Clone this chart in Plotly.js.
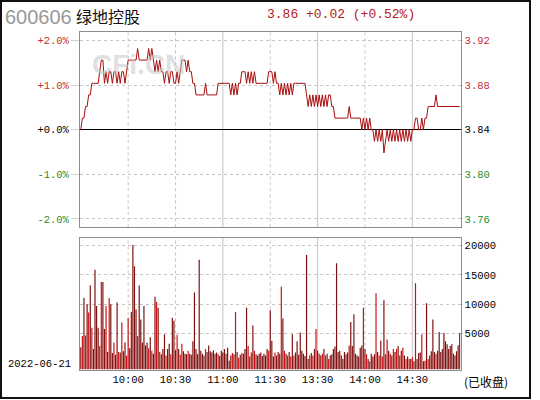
<!DOCTYPE html>
<html>
<head>
<meta charset="utf-8">
<script src="https://cdn.plot.ly/plotly-3.0.1.min.js"></script>
<style>html,body{margin:0;padding:0;background:#fff;}#chart{width:540px;height:400px;}</style>
</head>
<body>
<div id="chart"></div>
<script>
const stockCode = "600606";
const stockName = "绿地控股";
const quoteText = "3.86 +0.02 (+0.52%)";
const tradeDate = "2022-06-21";
const statusText = "(已收盘)";
const prevClose = 3.84;

const timeTicks = [30, 60, 90, 120, 150, 180, 210];
const timeLabels = ["10:00", "10:30", "11:00", "11:30", "13:30", "14:00", "14:30"];
const gridDash = ["dot", "dot", "solid", "dot", "solid", "dot", "solid"];

const pctTicks = [2, 1, 0, -1, -2];
const pctLabels = ["+2.0%", "+1.0%", "+0.0%", "-1.0%", "-2.0%"];
const priceLabels = ["3.92", "3.88", "3.84", "3.80", "3.76"];
const tickColors = ["#c03030", "#c03030", "#000000", "#2a8a2a", "#2a8a2a"];

const volTicks = [5000, 10000, 15000, 20000];
const volLabels = ["5000", "10000", "15000", "20000"];

const price = [
3.84,3.85,3.85,3.86,3.86,3.87,3.87,3.88,3.88,3.88,
3.88,3.88,3.89,3.90,3.90,3.88,3.89,3.88,3.89,3.89,
3.88,3.89,3.89,3.88,3.89,3.88,3.89,3.89,3.88,3.89,
3.90,3.90,3.90,3.90,3.90,3.90,3.91,3.90,3.90,3.90,
3.90,3.90,3.90,3.91,3.90,3.91,3.90,3.89,3.90,3.89,
3.90,3.89,3.89,3.88,3.89,3.89,3.88,3.89,3.89,3.88,
3.88,3.89,3.88,3.89,3.90,3.90,3.90,3.89,3.90,3.89,
3.89,3.88,3.88,3.87,3.87,3.87,3.87,3.87,3.87,3.88,
3.87,3.87,3.87,3.87,3.87,3.87,3.87,3.88,3.88,3.88,
3.88,3.88,3.88,3.88,3.88,3.87,3.88,3.87,3.88,3.87,
3.88,3.88,3.89,3.89,3.89,3.88,3.89,3.88,3.89,3.88,
3.89,3.88,3.88,3.88,3.88,3.88,3.88,3.88,3.88,3.89,
3.89,3.89,3.88,3.89,3.88,3.88,3.87,3.88,3.87,3.88,
3.87,3.88,3.87,3.88,3.87,3.88,3.88,3.88,3.88,3.88,
3.88,3.88,3.88,3.87,3.86,3.87,3.86,3.87,3.86,3.87,
3.86,3.87,3.86,3.87,3.86,3.87,3.86,3.87,3.87,3.86,
3.86,3.85,3.85,3.85,3.85,3.85,3.85,3.85,3.85,3.85,
3.86,3.85,3.85,3.85,3.85,3.85,3.85,3.85,3.84,3.85,
3.84,3.85,3.84,3.85,3.84,3.84,3.83,3.84,3.83,3.84,
3.83,3.84,3.82,3.83,3.84,3.83,3.84,3.83,3.84,3.83,
3.84,3.83,3.84,3.83,3.84,3.83,3.84,3.83,3.84,3.83,
3.84,3.84,3.85,3.85,3.84,3.84,3.85,3.84,3.85,3.85,
3.86,3.86,3.86,3.86,3.86,3.87,3.86,3.86,3.86,3.86,
3.86,3.86,3.86,3.86,3.86,3.86,3.86,3.86,3.86,3.86,
3.86
];

const volume = [
2700,4600,11100,4700,10000,8600,13200,6000,2400,15900,
9700,6000,2900,13800,13800,5800,9700,1900,11100,10000,
1700,3500,1400,10300,1900,1800,6900,2000,3500,1300,
7700,2500,8700,20100,16500,9100,4600,13200,7400,3500,
9700,3000,3500,2500,4400,2100,1600,11300,10400,9400,
1900,1500,2400,4900,1300,2400,3300,1500,7700,7200,
2200,4800,2400,1400,3300,2000,1600,1500,2100,1600,
1400,3700,12000,2400,1500,17600,2100,1600,1300,2400,
1900,3000,2000,1800,2200,1600,1800,1500,1200,2100,
1800,2400,1600,2600,400,1300,1700,1500,8700,1900,
900,1400,1700,1600,2400,9400,2900,1100,1800,6400,
2100,1500,1300,1600,1800,1200,1600,1300,2400,2100,
9000,3800,1100,1800,1300,1900,1600,13000,7600,2100,
1600,1300,1900,1100,4900,1300,1800,3700,1400,5200,
2100,1600,1200,18400,700,1300,1700,1300,2400,5800,
2100,1600,1300,1600,2400,1300,1600,700,1300,1500,
2400,2800,17000,1900,2100,1300,700,1900,1500,1800,
3000,7000,2900,8300,1600,1300,1100,2600,3000,9400,
2400,1500,700,300,1600,1100,1500,11900,1900,1300,
3800,1100,10700,1500,4000,2100,1600,1300,2400,1900,
2400,2900,1300,2100,2600,1300,700,1100,700,700,
1000,300,13600,700,1700,1800,4900,300,400,10200,
700,1300,2000,7400,1900,1600,2100,5300,1900,2400,
5100,3700,3200,2400,2900,3200,1600,1300,2000,3000,
5100
];

const idx = price.map((_, i) => i);
const pct = price.map(p => (p / prevClose - 1) * 100);
const barColors = price.map((p, i) => (i > 0 && p > price[i - 1]) ? "#d01010" : "#7e1010");
const volBase = -1100;

const monoFont = "Liberation Mono, DejaVu Sans Mono, monospace";
const colored = (labels) => labels.map((t, k) => '<span style="color:' + tickColors[k] + '">' + t + '</span>');

const xDom = [80 / 540, 460.5 / 540];

const traces = [
  {
    x: idx, y: pct, type: "scatter", mode: "lines",
    line: {color: "#a80d0d", width: 1, shape: "linear"},
    xaxis: "x", yaxis: "y", hoverinfo: "skip", showlegend: false
  },
  {
    x: idx, y: pct, type: "scatter", mode: "lines",
    line: {color: "rgba(0,0,0,0)", width: 0},
    xaxis: "x", yaxis: "y2", hoverinfo: "skip", showlegend: false
  },
  {
    x: idx, y: volume.map(v => v - volBase), base: volBase, type: "bar",
    marker: {color: barColors, line: {width: 0}},
    xaxis: "x2", yaxis: "y3", hoverinfo: "skip", showlegend: false
  }
];

const shapes = [];
timeTicks.forEach((t, k) => {
  ["y", "y3"].forEach(ya => {
    shapes.push({
      type: "line", xref: ya === "y" ? "x" : "x2", yref: ya + " domain",
      x0: t, x1: t, y0: 0, y1: 1,
      line: {color: "#c4c4c4", width: 1, dash: gridDash[k]}, layer: "below"
    });
  });
});
shapes.push({
  type: "rect", xref: "paper", yref: "paper",
  x0: 1 / 540, x1: 530 / 540, y0: 1 - 398 / 400, y1: 1 - 1 / 400,
  line: {color: "#111", width: 2}, layer: "above"
});

const layout = {
  width: 540, height: 400,
  margin: {l: 0, r: 0, t: 0, b: 0},
  paper_bgcolor: "#ffffff", plot_bgcolor: "#ffffff",
  showlegend: false, bargap: 0.25,
  font: {family: monoFont, size: 10, color: "#000"},
  xaxis: {
    domain: xDom, anchor: "y", range: [-0.5, 240.5], showgrid: false,
    showticklabels: false, ticks: "", zeroline: false,
    showline: true, mirror: true, linecolor: "#8c8c8c", linewidth: 1
  },
  yaxis: {
    domain: [1 - 227.3 / 400, 1 - 31.7 / 400], anchor: "x", range: [-2.19, 2.2],
    tickmode: "array", tickvals: pctTicks, ticktext: colored(pctLabels),
    ticks: "outside", ticklen: 8, tickcolor: "#d0d0d0",
    showgrid: true, gridcolor: "#c4c4c4", griddash: "dot",
    zeroline: true, zerolinecolor: "#000", zerolinewidth: 1,
    showline: true, mirror: true, linecolor: "#8c8c8c", linewidth: 1,
    tickfont: {family: monoFont, size: 10.5}
  },
  yaxis2: {
    overlaying: "y", side: "right", anchor: "x", range: [-2.19, 2.2],
    tickmode: "array", tickvals: pctTicks, ticktext: colored(priceLabels),
    ticks: "outside", ticklen: 1, tickcolor: "#d0d0d0",
    showgrid: false, zeroline: false, showline: false,
    tickfont: {family: monoFont, size: 10.5}
  },
  xaxis2: {
    domain: xDom, anchor: "y3", range: [-0.5, 240.5], showgrid: false,
    tickmode: "array", tickvals: timeTicks, ticktext: timeLabels,
    ticks: "", zeroline: false,
    showline: true, mirror: true, linecolor: "#8c8c8c", linewidth: 1,
    tickfont: {family: monoFont, size: 10.5}
  },
  yaxis3: {
    domain: [1 - 369.5 / 400, 1 - 237.7 / 400], anchor: "x2", side: "right",
    range: [-1100, 21350],
    tickmode: "array", tickvals: volTicks, ticktext: volLabels,
    ticks: "outside", ticklen: 1, tickcolor: "#d0d0d0",
    showgrid: true, gridcolor: "#c4c4c4", griddash: "dot", zeroline: false,
    showline: true, mirror: true, linecolor: "#8c8c8c", linewidth: 1,
    tickfont: {family: monoFont, size: 10.5}
  },
  shapes: shapes,
  annotations: [
    {text: stockCode, xref: "paper", yref: "paper", x: 3 / 540, y: 1 - 17 / 400,
     xanchor: "left", yanchor: "middle", showarrow: false,
     font: {family: "Liberation Sans, Arial, sans-serif", size: 20, color: "#999999"}},
    {text: stockName, xref: "paper", yref: "paper", x: 74 / 540, y: 1 - 16 / 400,
     xanchor: "left", yanchor: "middle", showarrow: false,
     font: {family: "Noto Sans CJK SC, sans-serif", size: 16, color: "#111"}},
    {text: quoteText, xref: "paper", yref: "paper", x: 341 / 540, y: 1 - 15 / 400,
     xanchor: "center", yanchor: "middle", showarrow: false,
     font: {family: monoFont, size: 13, color: "#b02020"}},
    {text: "CFi.CN", xref: "paper", yref: "paper", x: 138 / 540, y: 1 - 64 / 400,
     xanchor: "center", yanchor: "middle", showarrow: false, opacity: 0.55,
     font: {family: "Liberation Sans, Arial, sans-serif", size: 28, color: "#c8c8c8", weight: 700}},
    {text: tradeDate, xref: "paper", yref: "paper", x: 6 / 540, y: 1 - 364 / 400,
     xanchor: "left", yanchor: "middle", showarrow: false,
     font: {family: monoFont, size: 10.5, color: "#000"}},
    {text: statusText, xref: "paper", yref: "paper", x: 462 / 540, y: 1 - 381 / 400,
     xanchor: "left", yanchor: "middle", showarrow: false,
     font: {family: "Noto Sans CJK SC, sans-serif", size: 12, color: "#000"}}
  ]
};

Plotly.newPlot("chart", traces, layout, {staticPlot: true, displayModeBar: false});
</script>
</body>
</html>
